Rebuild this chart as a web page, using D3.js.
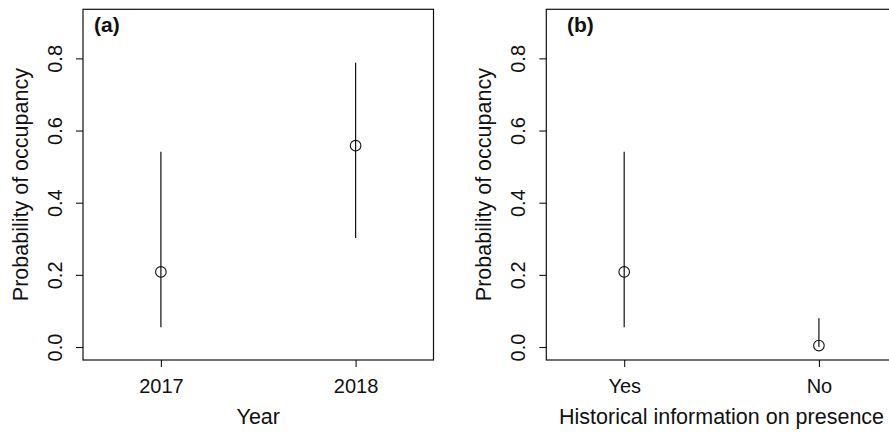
<!DOCTYPE html>
<html>
<head>
<meta charset="utf-8">
<script src="https://cdn.jsdelivr.net/npm/d3@7"></script>
<style>
  html, body { margin: 0; padding: 0; background: #fff; }
  svg { display: block; }
  text { font-family: "Liberation Sans", Arial, Helvetica, sans-serif; fill: #111; }
</style>
</head>
<body>
<svg id="chart" width="889" height="433"></svg>
<script>
// ---- data ----
const panelLabels = ["(a)", "(b)"];
const xTitles = ["Year", "Historical information on presence"];
const yTitle = "Probability of occupancy";
const categoriesA = ["2017", "2018"];
const estimateA = [0.208, 0.558];
const lowerA = [0.055, 0.302];
const upperA = [0.541, 0.788];
const categoriesB = ["Yes", "No"];
const estimateB = [0.208, 0.004];
const lowerB = [0.055, 0.0];
const upperB = [0.541, 0.080];
const yTicks = [0.0, 0.2, 0.4, 0.6, 0.8];

const svg = d3.select("#chart");
const ink = "#111";

const panels = [
  { left: 83, labelX: 94, cats: categoriesA, est: estimateA, lo: lowerA, hi: upperA, label: panelLabels[0], xt: xTitles[0] },
  { left: 546.3, labelX: 567, cats: categoriesB, est: estimateB, lo: lowerB, hi: upperB, label: panelLabels[1], xt: xTitles[1] }
];

const boxTop = 9.3, boxBottom = 360, boxW = 350.5;

panels.forEach(p => {
  const x = d3.scaleLinear().domain([0.6, 2.4]).range([p.left, p.left + boxW]);
  const y = d3.scaleLinear().domain([-0.036, 0.936]).range([boxBottom, boxTop]);
  const g = svg.append("g");

  // y axis
  const ya = g.append("g").attr("transform", `translate(${p.left},0)`)
    .call(d3.axisLeft(y).tickValues(yTicks).tickSize(7).tickFormat(d3.format(".1f")));
  ya.select(".domain").remove();
  ya.selectAll(".tick line").attr("stroke", ink).attr("stroke-width", 1.1);
  ya.selectAll(".tick text")
    .attr("transform", "rotate(-90)")
    .attr("x", 0).attr("y", -21).attr("dy", 0)
    .attr("text-anchor", "middle")
    .style("font-size", "20px").attr("fill", ink);

  // x axis
  const xa = g.append("g").attr("transform", `translate(0,${boxBottom})`)
    .call(d3.axisBottom(x).tickValues([1, 2]).tickSize(7).tickFormat((d, i) => p.cats[i]));
  xa.select(".domain").remove();
  xa.selectAll(".tick line").attr("stroke", ink).attr("stroke-width", 1.1);
  xa.selectAll(".tick text")
    .attr("y", 33).attr("dy", 0)
    .style("font-size", "20px").attr("fill", ink);

  // box
  g.append("rect")
    .attr("x", p.left).attr("y", boxTop)
    .attr("width", boxW).attr("height", boxBottom - boxTop)
    .attr("fill", "none").attr("stroke", ink).attr("stroke-width", 1.2);

  // error bars
  const idx = p.cats.map((c, i) => i);
  g.selectAll(".err").data(idx).join("line")
    .attr("x1", i => x(i + 1)).attr("x2", i => x(i + 1))
    .attr("y1", i => y(p.lo[i])).attr("y2", i => y(p.hi[i]))
    .attr("stroke", ink).attr("stroke-width", 1.2);

  // points
  g.selectAll(".pt").data(idx).join("circle")
    .attr("cx", i => x(i + 1)).attr("cy", i => y(p.est[i]))
    .attr("r", 5.3)
    .attr("fill", "none").attr("stroke", ink).attr("stroke-width", 1.1);

  // panel label
  g.append("text").attr("x", p.labelX).attr("y", 32)
    .style("font-size", "21px").style("font-weight", "bold").text(p.label);

  // x title
  g.append("text").attr("x", p.left + boxW / 2).attr("y", 423.5)
    .attr("text-anchor", "middle").style("font-size", "21.5px").text(p.xt);

  // y title
  g.append("text")
    .attr("transform", `translate(${p.left - 55},${(boxTop + boxBottom) / 2}) rotate(-90)`)
    .attr("text-anchor", "middle").style("font-size", "21.5px").text(yTitle);
});
</script>
</body>
</html>
